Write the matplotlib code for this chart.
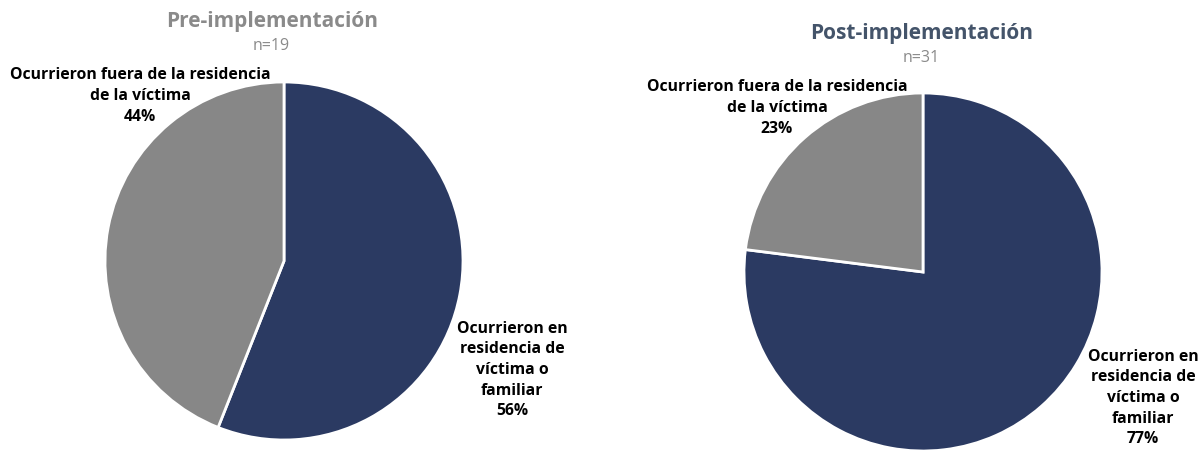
import matplotlib
matplotlib.use("Agg")
import matplotlib.pyplot as plt

W, H = 1199, 450

# Data
categories = ["Ocurrieron en\nresidencia de\nvíctima o\nfamiliar",
              "Ocurrieron fuera de la residencia\nde la víctima"]
pre_values = [56, 44]
post_values = [77, 23]
titles = ["Pre-implementación", "Post-implementación"]
n_labels = ["n=19", "n=31"]

colors = ["#2B3A62", "#878787"]
title_colors = ["#8A8A8A", "#44546A"]

plt.rcParams["font.family"] = ["Open Sans", "DejaVu Sans"]

fig = plt.figure(figsize=(W / 100, H / 100), dpi=100)
fig.patch.set_facecolor("white")


def px(x, y):
    return x / W, 1 - y / H


def draw_pie(cx, cy, r, values):
    ax = fig.add_axes([(cx - r) / W, (H - cy - r) / H, 2 * r / W, 2 * r / H])
    ax.pie(values, colors=colors, startangle=90, counterclock=False,
           wedgeprops=dict(edgecolor="white", linewidth=2), radius=1)
    ax.set_xlim(-1, 1)
    ax.set_ylim(-1, 1)
    ax.set_aspect("equal")
    ax.axis("off")
    return ax


panels = [
    dict(cx=284, cy=261, r=179, values=pre_values, title_xy=(272, 22), n_xy=(271, 46),
         lab_in=(512, 370), lab_out=(140, 96)),
    dict(cx=923, cy=272, r=179, values=post_values, title_xy=(922, 33), n_xy=(921, 58),
         lab_in=(1143, 398), lab_out=(777, 108)),
]

for i, p in enumerate(panels):
    draw_pie(p["cx"], p["cy"], p["r"], p["values"])
    fig.text(*px(*p["title_xy"]), titles[i], ha="center", va="center",
             fontsize=15, fontweight="bold", color=title_colors[i])
    fig.text(*px(*p["n_xy"]), n_labels[i], ha="center", va="center",
             fontsize=11.5, color="#8A8A8A")
    fig.text(*px(*p["lab_in"]), f"{categories[0]}\n{p['values'][0]}%",
             ha="center", va="center", fontsize=11.3, fontweight="bold",
             color="black", linespacing=1.38)
    fig.text(*px(*p["lab_out"]), f"{categories[1]}\n{p['values'][1]}%",
             ha="center", va="center", fontsize=11.3, fontweight="bold",
             color="black", linespacing=1.38)

fig.savefig("out.png", dpi=100, facecolor="white")
